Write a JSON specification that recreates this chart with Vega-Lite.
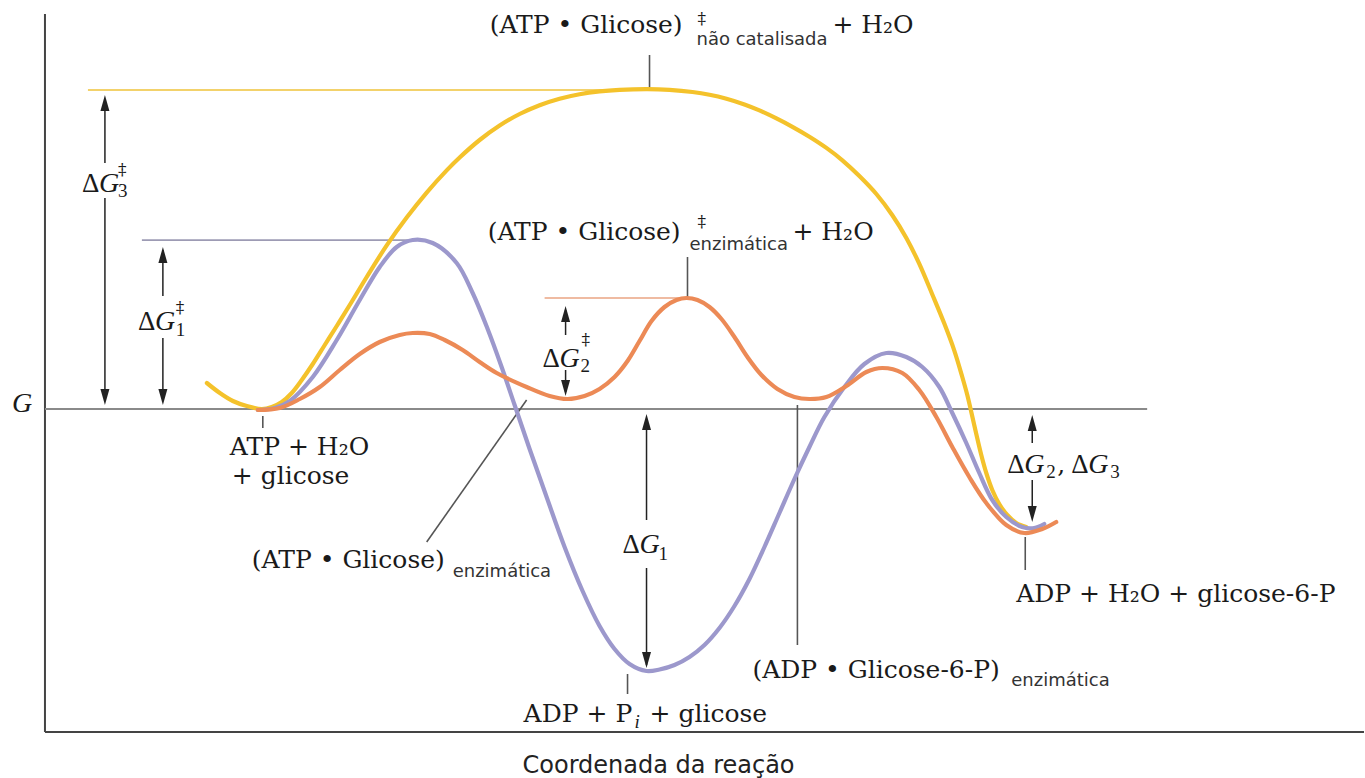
{
  "$schema": "https://vega.github.io/schema/vega-lite/v6.json",
  "width": 1365,
  "height": 778,
  "padding": 0,
  "autosize": {"type": "fit", "contains": "padding"},
  "background": "white",
  "config": {"view": {"stroke": null}},
  "datasets": {
    "curves": [
      {"s":"não catalisada","x":207,"G":26},{"s":"não catalisada","x":220,"G":16},{"s":"não catalisada","x":233,"G":8},{"s":"não catalisada","x":247,"G":3},{"s":"não catalisada","x":262,"G":0},{"s":"não catalisada","x":272,"G":2},{"s":"não catalisada","x":282,"G":7},{"s":"não catalisada","x":292,"G":16},{"s":"não catalisada","x":302,"G":29},{"s":"não catalisada","x":313,"G":45},{"s":"não catalisada","x":325,"G":64},{"s":"não catalisada","x":337,"G":83},{"s":"não catalisada","x":350,"G":104},{"s":"não catalisada","x":367,"G":132},{"s":"não catalisada","x":387,"G":163.6},{"s":"não catalisada","x":407,"G":191.4},{"s":"não catalisada","x":427,"G":216.4},{"s":"não catalisada","x":447,"G":238.6},{"s":"não catalisada","x":460,"G":251.5},{"s":"não catalisada","x":480,"G":269},{"s":"não catalisada","x":500,"G":283.5},{"s":"não catalisada","x":520,"G":295},{"s":"não catalisada","x":540,"G":303.8},{"s":"não catalisada","x":560,"G":310.3},{"s":"não catalisada","x":580,"G":314.8},{"s":"não catalisada","x":600,"G":317.6},{"s":"não catalisada","x":620,"G":319.1},{"s":"não catalisada","x":648,"G":319.8},{"s":"não catalisada","x":670,"G":319.1},{"s":"não catalisada","x":693,"G":317},{"s":"não catalisada","x":710,"G":314.3},{"s":"não catalisada","x":727,"G":310.3},{"s":"não catalisada","x":745,"G":304.6},{"s":"não catalisada","x":760,"G":298.6},{"s":"não catalisada","x":777,"G":290.6},{"s":"não catalisada","x":793,"G":282.2},{"s":"não catalisada","x":810,"G":272.3},{"s":"não catalisada","x":827,"G":261.1},{"s":"não catalisada","x":843,"G":248.7},{"s":"não catalisada","x":860,"G":233},{"s":"não catalisada","x":877,"G":215},{"s":"não catalisada","x":893,"G":193.8},{"s":"não catalisada","x":907,"G":171.1},{"s":"não catalisada","x":920,"G":145.1},{"s":"não catalisada","x":933,"G":114.5},{"s":"não catalisada","x":945,"G":85.4},{"s":"não catalisada","x":955,"G":58.4},{"s":"não catalisada","x":963,"G":32},{"s":"não catalisada","x":968,"G":14},{"s":"não catalisada","x":972,"G":-3},{"s":"não catalisada","x":977,"G":-25},{"s":"não catalisada","x":982,"G":-46},{"s":"não catalisada","x":987,"G":-64},{"s":"não catalisada","x":993,"G":-81},{"s":"não catalisada","x":1000,"G":-95},{"s":"não catalisada","x":1008,"G":-106},{"s":"não catalisada","x":1017,"G":-114},{"s":"não catalisada","x":1027,"G":-118},
      {"s":"hidrólise","x":258,"G":-1},{"s":"hidrólise","x":275,"G":1},{"s":"hidrólise","x":290,"G":8},{"s":"hidrólise","x":313,"G":32},{"s":"hidrólise","x":337,"G":69},{"s":"hidrólise","x":360,"G":109},{"s":"hidrólise","x":380,"G":142},{"s":"hidrólise","x":397,"G":162},{"s":"hidrólise","x":413,"G":169},{"s":"hidrólise","x":433,"G":166},{"s":"hidrólise","x":457,"G":146},{"s":"hidrólise","x":473,"G":116},{"s":"hidrólise","x":488,"G":80},{"s":"hidrólise","x":502,"G":42},{"s":"hidrólise","x":515,"G":4},{"s":"hidrólise","x":530,"G":-40},{"s":"hidrólise","x":547,"G":-88},{"s":"hidrólise","x":565,"G":-138},{"s":"hidrólise","x":583,"G":-182},{"s":"hidrólise","x":600,"G":-217},{"s":"hidrólise","x":615,"G":-240},{"s":"hidrólise","x":630,"G":-255},{"s":"hidrólise","x":647,"G":-262},{"s":"hidrólise","x":660,"G":-260.5},{"s":"hidrólise","x":675,"G":-256},{"s":"hidrólise","x":690,"G":-248},{"s":"hidrólise","x":705,"G":-236},{"s":"hidrólise","x":720,"G":-219},{"s":"hidrólise","x":735,"G":-197},{"s":"hidrólise","x":750,"G":-170},{"s":"hidrólise","x":765,"G":-138},{"s":"hidrólise","x":780,"G":-104},{"s":"hidrólise","x":795,"G":-70},{"s":"hidrólise","x":810,"G":-38},{"s":"hidrólise","x":825,"G":-8},{"s":"hidrólise","x":845,"G":22},{"s":"hidrólise","x":865,"G":45},{"s":"hidrólise","x":887,"G":56},{"s":"hidrólise","x":907,"G":52},{"s":"hidrólise","x":923,"G":42},{"s":"hidrólise","x":940,"G":22},{"s":"hidrólise","x":953,"G":-4},{"s":"hidrólise","x":967,"G":-34},{"s":"hidrólise","x":980,"G":-64},{"s":"hidrólise","x":993,"G":-91},{"s":"hidrólise","x":1007,"G":-108},{"s":"hidrólise","x":1023,"G":-118},{"s":"hidrólise","x":1035,"G":-119},{"s":"hidrólise","x":1045,"G":-115},
      {"s":"enzimática","x":258,"G":-1},{"s":"enzimática","x":280,"G":1},{"s":"enzimática","x":300,"G":10},{"s":"enzimática","x":320,"G":22},{"s":"enzimática","x":340,"G":39},{"s":"enzimática","x":360,"G":55},{"s":"enzimática","x":380,"G":67},{"s":"enzimática","x":400,"G":74},{"s":"enzimática","x":413,"G":76},{"s":"enzimática","x":430,"G":75},{"s":"enzimática","x":445,"G":69},{"s":"enzimática","x":463,"G":59},{"s":"enzimática","x":480,"G":47},{"s":"enzimática","x":497,"G":36},{"s":"enzimática","x":527,"G":22},{"s":"enzimática","x":550,"G":13},{"s":"enzimática","x":568,"G":10},{"s":"enzimática","x":585,"G":13},{"s":"enzimática","x":600,"G":20},{"s":"enzimática","x":615,"G":32},{"s":"enzimática","x":628,"G":48},{"s":"enzimática","x":640,"G":68},{"s":"enzimática","x":652,"G":88},{"s":"enzimática","x":665,"G":102},{"s":"enzimática","x":677,"G":109},{"s":"enzimática","x":687,"G":111},{"s":"enzimática","x":698,"G":109},{"s":"enzimática","x":710,"G":102},{"s":"enzimática","x":722,"G":90},{"s":"enzimática","x":735,"G":72},{"s":"enzimática","x":748,"G":52},{"s":"enzimática","x":762,"G":34},{"s":"enzimática","x":778,"G":20},{"s":"enzimática","x":795,"G":12},{"s":"enzimática","x":810,"G":10},{"s":"enzimática","x":827,"G":12},{"s":"enzimática","x":847,"G":23},{"s":"enzimática","x":867,"G":37},{"s":"enzimática","x":883,"G":41},{"s":"enzimática","x":903,"G":36},{"s":"enzimática","x":920,"G":19},{"s":"enzimática","x":937,"G":-8},{"s":"enzimática","x":953,"G":-38},{"s":"enzimática","x":970,"G":-68},{"s":"enzimática","x":987,"G":-94},{"s":"enzimática","x":1007,"G":-116},{"s":"enzimática","x":1025,"G":-124},{"s":"enzimática","x":1043,"G":-120},{"s":"enzimática","x":1057,"G":-113}
    ],
    "rules": [
      {"k":"axis","x":45,"G":395,"x2":45,"G2":-323},
      {"k":"axis","x":45,"G":-323,"x2":1365,"G2":-323},
      {"k":"base","x":45,"G":0,"x2":1148,"G2":0},
      {"k":"lvY","x":88,"G":319,"x2":648,"G2":319},
      {"k":"lvP","x":142,"G":169,"x2":413,"G2":169},
      {"k":"lvO","x":545,"G":111,"x2":687,"G2":111},
      {"k":"leader","x":650,"G":354,"x2":650,"G2":321},
      {"k":"leader","x":688,"G":152,"x2":688,"G2":112},
      {"k":"leader","x":263,"G":-7,"x2":263,"G2":-19},
      {"k":"leader","x":527,"G":9,"x2":427,"G2":-133},
      {"k":"leader","x":798,"G":4,"x2":798,"G2":-236},
      {"k":"leader","x":628,"G":-265,"x2":628,"G2":-285},
      {"k":"leader","x":1026,"G":-128,"x2":1026,"G2":-161},
      {"k":"arrow","x":105,"G":309,"x2":105,"G2":246},
      {"k":"arrow","x":105,"G":211,"x2":105,"G2":9},
      {"k":"arrow","x":163,"G":159,"x2":163,"G2":113},
      {"k":"arrow","x":163,"G":71,"x2":163,"G2":9},
      {"k":"arrow","x":566,"G":99,"x2":566,"G2":74},
      {"k":"arrow","x":566,"G":39,"x2":566,"G2":17},
      {"k":"arrow","x":647,"G":-16,"x2":647,"G2":-111},
      {"k":"arrow","x":647,"G":-159,"x2":647,"G2":-256},
      {"k":"arrow","x":1033,"G":-11,"x2":1033,"G2":-34},
      {"k":"arrow","x":1033,"G":-71,"x2":1033,"G2":-109}
    ],
    "tips": [
      {"x":105,"G":314,"dir":"up"},{"x":105,"G":4,"dir":"down"},
      {"x":163,"G":162,"dir":"up"},{"x":163,"G":4,"dir":"down"},
      {"x":566,"G":103,"dir":"up"},{"x":566,"G":13,"dir":"down"},
      {"x":647,"G":-5,"dir":"up"},{"x":647,"G":-259,"dir":"down"},
      {"x":1033,"G":-6,"dir":"up"},{"x":1033,"G":-113,"dir":"down"}
    ],
    "texts": [
      {"role":"serif","x":490,"G":376,"t":"(ATP • Glicose)"},
      {"role":"sup","x":698,"G":385,"t":"‡"},
      {"role":"sans","x":697,"G":364,"t":"não catalisada"},
      {"role":"serif","x":833,"G":376,"t":"+ H₂O"},
      {"role":"serif","x":488,"G":169,"t":"(ATP • Glicose)"},
      {"role":"sup","x":698,"G":182,"t":"‡"},
      {"role":"sans","x":690,"G":159,"t":"enzimática"},
      {"role":"serif","x":793,"G":169,"t":"+ H₂O"},
      {"role":"serif","x":230,"G":-46,"t":"ATP + H₂O"},
      {"role":"serif","x":232,"G":-75,"t":"+ glicose"},
      {"role":"serif","x":252,"G":-159,"t":"(ATP • Glicose)"},
      {"role":"sans","x":453,"G":-168,"t":"enzimática"},
      {"role":"serif","x":524,"G":-313,"t":"ADP + P"},
      {"role":"subital","x":635,"G":-319,"t":"i"},
      {"role":"serif","x":650,"G":-313,"t":"+ glicose"},
      {"role":"serif","x":753,"G":-269,"t":"(ADP • Glicose-6-P)"},
      {"role":"sans","x":1012,"G":-277,"t":"enzimática"},
      {"role":"serif","x":1017,"G":-193,"t":"ADP + H₂O + glicose-6-P"},
      {"role":"axis","x":659,"G":-364,"t":"Coordenada da reação"},
      {"role":"ital","x":12,"G":-3,"t":"G"},
      {"role":"delta","x":82,"G":217,"t":"Δ"},
      {"role":"ital","x":99,"G":217,"t":"G"},
      {"role":"sub","x":118,"G":212,"t":"3"},
      {"role":"sup","x":118,"G":234,"t":"‡"},
      {"role":"delta","x":138,"G":79,"t":"Δ"},
      {"role":"ital","x":155,"G":79,"t":"G"},
      {"role":"sub","x":176,"G":73,"t":"1"},
      {"role":"sup","x":176,"G":96,"t":"‡"},
      {"role":"delta","x":543,"G":42,"t":"Δ"},
      {"role":"ital","x":560,"G":42,"t":"G"},
      {"role":"sub","x":581,"G":37,"t":"2"},
      {"role":"sup","x":582,"G":64,"t":"‡"},
      {"role":"delta","x":623,"G":-144,"t":"Δ"},
      {"role":"ital","x":640,"G":-144,"t":"G"},
      {"role":"sub","x":659,"G":-151,"t":"1"},
      {"role":"delta","x":1008,"G":-64,"t":"Δ"},
      {"role":"ital","x":1025,"G":-64,"t":"G"},
      {"role":"sub","x":1047,"G":-69,"t":"2"},
      {"role":"serif","x":1058,"G":-64,"t":","},
      {"role":"delta","x":1072,"G":-64,"t":"Δ"},
      {"role":"ital","x":1089,"G":-64,"t":"G"},
      {"role":"sub","x":1111,"G":-69,"t":"3"}
    ]
  },
  "resolve": {"scale": {"color": "independent", "strokeWidth": "independent", "shape": "independent"}},
  "layer": [
    {
      "data": {"name": "rules"},
      "mark": {"type": "rule", "strokeCap": "butt"},
      "encoding": {
        "x": {"field": "x", "type": "quantitative", "scale": {"domain": [0, 1365], "nice": false, "zero": false}, "axis": null},
        "y": {"field": "G", "type": "quantitative", "scale": {"domain": [-369, 409], "nice": false, "zero": false}, "axis": null},
        "x2": {"field": "x2"},
        "y2": {"field": "G2"},
        "color": {"field": "k", "type": "nominal", "legend": null,
          "scale": {"domain": ["axis","base","lvY","lvP","lvO","leader","arrow"], "range": ["#444444","#8a8a8a","#f3d26b","#9d9bb4","#eaa583","#555555","#222222"]}},
        "strokeWidth": {"field": "k", "type": "nominal", "legend": null,
          "scale": {"domain": ["axis","base","lvY","lvP","lvO","leader","arrow"], "range": [2, 1.5, 2, 2, 1.5, 1.2, 1.5]}}
      }
    },
    {
      "data": {"name": "curves"},
      "mark": {"type": "line", "interpolate": "catmull-rom", "strokeWidth": 4.2, "strokeCap": "round"},
      "encoding": {
        "x": {"field": "x", "type": "quantitative", "scale": {"domain": [0, 1365], "nice": false, "zero": false}, "axis": null},
        "y": {"field": "G", "type": "quantitative", "scale": {"domain": [-369, 409], "nice": false, "zero": false}, "axis": null},
        "color": {"field": "s", "type": "nominal", "legend": null, "sort": ["não catalisada","hidrólise","enzimática"],
          "scale": {"domain": ["não catalisada","hidrólise","enzimática"], "range": ["#f4c22b","#9c98cc","#ec8a56"]}},
        "order": {"field": "x", "type": "quantitative"}
      }
    },
    {
      "data": {"name": "tips"},
      "mark": {"type": "point", "filled": true, "size": 4, "opacity": 1, "color": "#222222"},
      "encoding": {
        "x": {"field": "x", "type": "quantitative", "scale": {"domain": [0, 1365], "nice": false, "zero": false}, "axis": null},
        "y": {"field": "G", "type": "quantitative", "scale": {"domain": [-369, 409], "nice": false, "zero": false}, "axis": null},
        "shape": {"field": "dir", "type": "nominal", "legend": null,
          "scale": {"domain": ["up","down"], "range": ["M0,0L4.5,16L-4.5,16Z","M0,0L4.5,-16L-4.5,-16Z"]}}
      }
    },
    {
      "data": {"name": "texts"},
      "transform": [{"filter": "datum.role === 'serif'"}],
      "mark": {"type": "text", "align": "left", "baseline": "alphabetic", "font": "DejaVu Serif", "fontSize": 25, "color": "#1a1a1a"},
      "encoding": {
        "x": {"field": "x", "type": "quantitative", "scale": {"domain": [0, 1365], "nice": false, "zero": false}, "axis": null},
        "y": {"field": "G", "type": "quantitative", "scale": {"domain": [-369, 409], "nice": false, "zero": false}, "axis": null},
        "text": {"field": "t"}
      }
    },
    {
      "data": {"name": "texts"},
      "transform": [{"filter": "datum.role === 'delta'"}],
      "mark": {"type": "text", "align": "left", "baseline": "alphabetic", "font": "Liberation Serif", "fontSize": 27, "color": "#1a1a1a"},
      "encoding": {
        "x": {"field": "x", "type": "quantitative", "scale": {"domain": [0, 1365], "nice": false, "zero": false}, "axis": null},
        "y": {"field": "G", "type": "quantitative", "scale": {"domain": [-369, 409], "nice": false, "zero": false}, "axis": null},
        "text": {"field": "t"}
      }
    },
    {
      "data": {"name": "texts"},
      "transform": [{"filter": "datum.role === 'ital'"}],
      "mark": {"type": "text", "align": "left", "baseline": "alphabetic", "font": "Liberation Serif", "fontStyle": "italic", "fontSize": 28, "color": "#1a1a1a"},
      "encoding": {
        "x": {"field": "x", "type": "quantitative", "scale": {"domain": [0, 1365], "nice": false, "zero": false}, "axis": null},
        "y": {"field": "G", "type": "quantitative", "scale": {"domain": [-369, 409], "nice": false, "zero": false}, "axis": null},
        "text": {"field": "t"}
      }
    },
    {
      "data": {"name": "texts"},
      "transform": [{"filter": "datum.role === 'sub'"}],
      "mark": {"type": "text", "align": "left", "baseline": "alphabetic", "font": "Liberation Serif", "fontSize": 19, "color": "#1a1a1a"},
      "encoding": {
        "x": {"field": "x", "type": "quantitative", "scale": {"domain": [0, 1365], "nice": false, "zero": false}, "axis": null},
        "y": {"field": "G", "type": "quantitative", "scale": {"domain": [-369, 409], "nice": false, "zero": false}, "axis": null},
        "text": {"field": "t"}
      }
    },
    {
      "data": {"name": "texts"},
      "transform": [{"filter": "datum.role === 'subital'"}],
      "mark": {"type": "text", "align": "left", "baseline": "alphabetic", "font": "Liberation Serif", "fontStyle": "italic", "fontSize": 19, "color": "#1a1a1a"},
      "encoding": {
        "x": {"field": "x", "type": "quantitative", "scale": {"domain": [0, 1365], "nice": false, "zero": false}, "axis": null},
        "y": {"field": "G", "type": "quantitative", "scale": {"domain": [-369, 409], "nice": false, "zero": false}, "axis": null},
        "text": {"field": "t"}
      }
    },
    {
      "data": {"name": "texts"},
      "transform": [{"filter": "datum.role === 'sup'"}],
      "mark": {"type": "text", "align": "left", "baseline": "alphabetic", "font": "DejaVu Serif", "fontSize": 17, "color": "#1a1a1a"},
      "encoding": {
        "x": {"field": "x", "type": "quantitative", "scale": {"domain": [0, 1365], "nice": false, "zero": false}, "axis": null},
        "y": {"field": "G", "type": "quantitative", "scale": {"domain": [-369, 409], "nice": false, "zero": false}, "axis": null},
        "text": {"field": "t"}
      }
    },
    {
      "data": {"name": "texts"},
      "transform": [{"filter": "datum.role === 'sans'"}],
      "mark": {"type": "text", "align": "left", "baseline": "alphabetic", "font": "DejaVu Sans", "fontSize": 18, "color": "#333333"},
      "encoding": {
        "x": {"field": "x", "type": "quantitative", "scale": {"domain": [0, 1365], "nice": false, "zero": false}, "axis": null},
        "y": {"field": "G", "type": "quantitative", "scale": {"domain": [-369, 409], "nice": false, "zero": false}, "axis": null},
        "text": {"field": "t"}
      }
    },
    {
      "data": {"name": "texts"},
      "transform": [{"filter": "datum.role === 'axis'"}],
      "mark": {"type": "text", "align": "center", "baseline": "alphabetic", "font": "DejaVu Sans", "fontSize": 24, "color": "#222222"},
      "encoding": {
        "x": {"field": "x", "type": "quantitative", "scale": {"domain": [0, 1365], "nice": false, "zero": false}, "axis": null},
        "y": {"field": "G", "type": "quantitative", "scale": {"domain": [-369, 409], "nice": false, "zero": false}, "axis": null},
        "text": {"field": "t"}
      }
    }
  ]
}
